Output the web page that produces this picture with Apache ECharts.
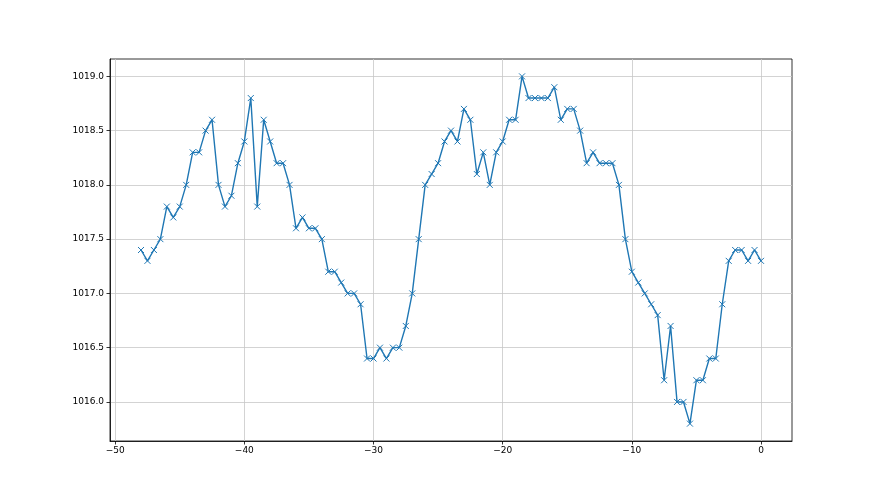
<!DOCTYPE html>
<html>
<head>
<meta charset="utf-8">
<script src="https://cdn.jsdelivr.net/npm/echarts@6/dist/echarts.min.js"></script>
<style>
  html, body { margin: 0; padding: 0; background: #fff; }
  #chart { width: 880px; height: 495px; }
</style>
</head>
<body>
<div id="chart"></div>
<script>
// hours relative to now, step 0.5
const hours = []
for (let i = 0; i < 97; i++) hours.push(-48 + i * 0.5)

const pressure = [
  1017.4, 1017.3, 1017.4, 1017.5, 1017.8, 1017.7, 1017.8, 1018.0, 1018.3, 1018.3,
  1018.5, 1018.6, 1018.0, 1017.8, 1017.9, 1018.2, 1018.4, 1018.8, 1017.8, 1018.6,
  1018.4, 1018.2, 1018.2, 1018.0, 1017.6, 1017.7, 1017.6, 1017.6, 1017.5, 1017.2,
  1017.2, 1017.1, 1017.0, 1017.0, 1016.9, 1016.4, 1016.4, 1016.5, 1016.4, 1016.5,
  1016.5, 1016.7, 1017.0, 1017.5, 1018.0, 1018.1, 1018.2, 1018.4, 1018.5, 1018.4,
  1018.7, 1018.6, 1018.1, 1018.3, 1018.0, 1018.3, 1018.4, 1018.6, 1018.6, 1019.0,
  1018.8, 1018.8, 1018.8, 1018.8, 1018.9, 1018.6, 1018.7, 1018.7, 1018.5, 1018.2,
  1018.3, 1018.2, 1018.2, 1018.2, 1018.0, 1017.5, 1017.2, 1017.1, 1017.0, 1016.9,
  1016.8, 1016.2, 1016.7, 1016.0, 1016.0, 1015.8, 1016.2, 1016.2, 1016.4, 1016.4,
  1016.9, 1017.3, 1017.4, 1017.4, 1017.3, 1017.4, 1017.3
]

const xTicks = [-50, -40, -30, -20, -10, 0]
const yTicks = [1016.0, 1016.5, 1017.0, 1017.5, 1018.0, 1018.5, 1019.0]

const chart = echarts.init(document.getElementById('chart'))

const axisCommon = {
  axisLine: { show: true, onZero: false, lineStyle: { color: '#000', width: 0.8 } },
  axisTick: { show: true, inside: false, length: 3.5, lineStyle: { color: '#000', width: 0.8 } },
  axisLabel: { color: '#000', fontFamily: 'DejaVu Sans', fontSize: 9 },
  splitLine: { show: true, lineStyle: { color: '#c8c8c8', width: 0.8 } }
}

chart.setOption({
  animation: false,
  grid: {
    left: 110, right: 88, top: 59, bottom: 54,
    show: true, borderColor: '#000', borderWidth: 0.8
  },
  xAxis: {
    type: 'value',
    min: -50.4,
    max: 2.4,
    ...axisCommon,
    axisTick: { ...axisCommon.axisTick, customValues: xTicks },
    axisLabel: { ...axisCommon.axisLabel, margin: 5, customValues: xTicks, formatter: v => String(v).replace('-', '\u2212') }
  },
  yAxis: {
    type: 'value',
    min: 1015.64,
    max: 1019.16,
    ...axisCommon,
    axisTick: { ...axisCommon.axisTick, customValues: yTicks },
    axisLabel: { ...axisCommon.axisLabel, margin: 6, customValues: yTicks, formatter: v => v.toFixed(1) }
  },
  series: [{
    type: 'line',
    data: hours.map((h, i) => [h, pressure[i]]),
    symbol: 'path://M0,0L10,10M10,0L0,10',
    symbolSize: 6,
    showAllSymbol: true,
    lineStyle: { color: '#1f77b4', width: 1.4 },
    itemStyle: { color: '#1f77b4', borderColor: '#1f77b4', borderWidth: 1 }
  }]
})
</script>
</body>
</html>
